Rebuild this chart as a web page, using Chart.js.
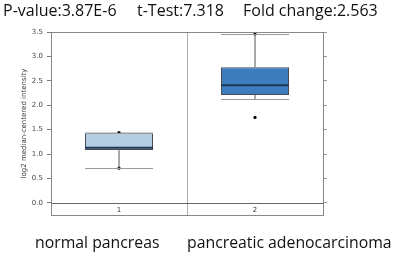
<!DOCTYPE html>
<html>
<head>
<meta charset="utf-8">
<script src="https://cdn.jsdelivr.net/npm/chart.js@4"></script>
<style>
  html, body { margin: 0; padding: 0; background: #fff; }
  #wrap { position: relative; width: 397px; height: 254px; overflow: hidden; }
  #chart { position: absolute; left: 0; top: 0; }
  .txt { position: absolute; font-family: "Open Sans", sans-serif; color: #111; white-space: nowrap; }
</style>
</head>
<body>
<div id="wrap">
  <canvas id="chart" width="397" height="254"></canvas>
  <div class="txt" style="left:3px; top:-1px; font-size:16px;">P-value:3.87E-6</div>
  <div class="txt" style="left:137px; top:-1px; font-size:16px;">t-Test:7.318</div>
  <div class="txt" style="left:243px; top:-1px; font-size:16px;">Fold change:2.563</div>
  <div class="txt" style="left:35px; top:231px; font-size:15.8px;">normal pancreas</div>
  <div class="txt" style="left:187px; top:231px; font-size:15.8px;">pancreatic adenocarcinoma</div>
</div>
<script>
// box plot values
const groups = ['1', '2'];
const q1 = [1.08, 2.21];
const median = [1.13, 2.41];
const q3 = [1.44, 2.78];
const whiskerLow = [0.71, 2.12];
const whiskerHigh = [1.44, 3.46];
const dots = [
    {x: '1', y: 1.44}, {x: '1', y: 0.71},
    {x: '2', y: 3.46}, {x: '2', y: 1.75}
];
const yTicks = [0, 0.5, 1.0, 1.5, 2.0, 2.5, 3.0, 3.5];
const boxColors = ['#b3cde3', '#3b7dbd'];

// whiskers, medians, the frame and the small "1"/"2" labels
const boxExtras = {
    id: 'boxExtras',
    afterDatasetsDraw(chart) {
        const ctx = chart.ctx;
        const y = chart.scales.y;
        const x = chart.scales.x;
        const area = chart.chartArea;
        const meta = chart.getDatasetMeta(0);
        ctx.save();
        meta.data.forEach((bar, i) => {
            const half = bar.width / 2;
            const cx = bar.x;
            // whisker stems
            ctx.strokeStyle = '#555';
            ctx.lineWidth = 1;
            ctx.beginPath();
            ctx.moveTo(cx, y.getPixelForValue(q3[i]));
            ctx.lineTo(cx, y.getPixelForValue(whiskerHigh[i]));
            ctx.moveTo(cx, y.getPixelForValue(q1[i]));
            ctx.lineTo(cx, y.getPixelForValue(whiskerLow[i]));
            ctx.stroke();
            // caps
            ctx.strokeStyle = '#999';
            ctx.beginPath();
            [whiskerLow[i], whiskerHigh[i]].forEach(v => {
                const py = Math.round(y.getPixelForValue(v)) + 0.5;
                ctx.moveTo(cx - half, py);
                ctx.lineTo(cx + half, py);
            });
            ctx.stroke();
            // median
            ctx.strokeStyle = '#1d3954';
            ctx.lineWidth = 2;
            ctx.beginPath();
            const my = y.getPixelForValue(median[i]);
            ctx.moveTo(cx - half, my);
            ctx.lineTo(cx + half, my);
            ctx.stroke();
        });
        // zero line
        ctx.strokeStyle = '#666';
        ctx.lineWidth = 1;
        const zy = Math.round(y.getPixelForValue(0)) + 0.5;
        ctx.beginPath();
        ctx.moveTo(area.left, zy);
        ctx.lineTo(area.right, zy);
        ctx.stroke();
        // frame
        ctx.strokeStyle = '#888';
        ctx.strokeRect(Math.round(area.left) + 0.5, Math.round(area.top) + 0.5,
            Math.round(area.right - area.left), Math.round(area.bottom - area.top));
        // group numbers in the strip below zero
        ctx.fillStyle = '#333';
        ctx.font = '7px "DejaVu Sans", sans-serif';
        ctx.textAlign = 'center';
        ctx.textBaseline = 'middle';
        groups.forEach((g, i) => {
            ctx.fillText(g, x.getPixelForValue(i), (zy + area.bottom) / 2 + 0.5);
        });
        ctx.restore();
    }
};

new Chart(document.getElementById('chart'), {
    data: {
        labels: groups,
        datasets: [{
                type: 'bar',
                data: groups.map((g, i) => [q1[i], q3[i]]),
                backgroundColor: boxColors,
                borderColor: '#4a4a55',
                borderWidth: 1,
                borderSkipped: false,
                barPercentage: 0.5,
                categoryPercentage: 1.0
            },
            {
                type: 'scatter',
                data: dots,
                pointRadius: 1.6,
                pointBackgroundColor: '#000',
                pointBorderWidth: 0
            }
        ]
    },
    options: {
        animation: false,
        responsive: false,
        layout: {
            padding: {left: 20, right: 70, top: 32, bottom: 39}
        },
        plugins: {
            legend: {display: false},
            tooltip: {enabled: false}
        },
        scales: {
            x: {
                type: 'category',
                offset: true,
                grid: {
                    offset: true,
                    color: '#aaa',
                    drawTicks: false
                },
                border: {display: false},
                ticks: {display: false}
            },
            y: {
                min: -0.25,
                max: 3.5,
                afterBuildTicks: axis => { axis.ticks = yTicks.map(v => ({value: v})); },
                grid: {
                    drawOnChartArea: false,
                    tickLength: 4,
                    color: '#777'
                },
                border: {color: '#888'},
                ticks: {
                    font: {size: 7, family: 'DejaVu Sans'},
                    color: '#444',
                    padding: 4,
                    callback: v => v.toFixed(1)
                },
                title: {
                    display: true,
                    text: 'log2 median-centered intensity',
                    font: {size: 7, family: 'DejaVu Sans'},
                    color: '#333',
                    padding: {top: 0, bottom: 4}
                },
                afterFit: axis => { axis.width = 31; }
            },
            yRight: {
                position: 'right',
                min: -0.25,
                max: 3.5,
                afterBuildTicks: axis => { axis.ticks = yTicks.map(v => ({value: v})); },
                grid: {
                    drawOnChartArea: false,
                    tickLength: 4,
                    color: '#999'
                },
                border: {color: '#888'},
                ticks: {callback: () => '', padding: 0},
                afterFit: axis => { axis.width = 4; }
            }
        }
    },
    plugins: [boxExtras]
});
</script>
</body>
</html>
